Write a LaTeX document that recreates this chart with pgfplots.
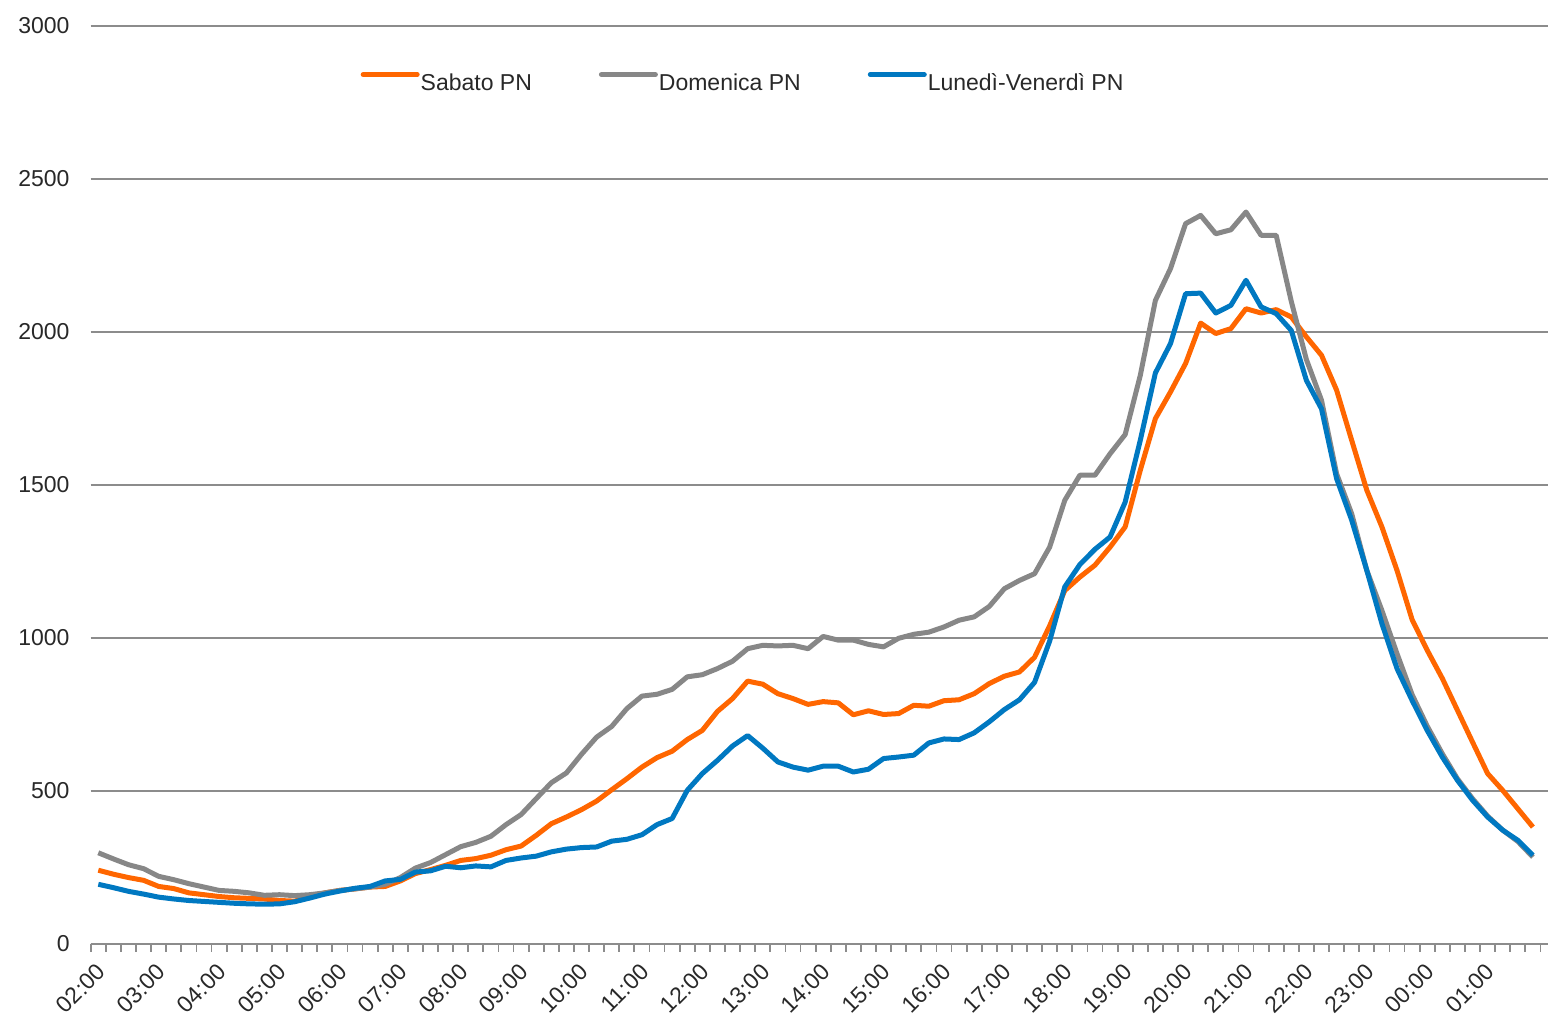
\documentclass[border=0pt]{standalone}
\usepackage{fontspec}
\setmainfont{Liberation Sans}
\usepackage{pgfplots}
\usepackage{pgfplotstable}
\pgfplotsset{compat=1.18}
\definecolor{sabato}{RGB}{255,102,0}
\definecolor{domenica}{RGB}{135,135,135}
\definecolor{lunven}{RGB}{0,120,193}
\definecolor{gridgray}{RGB}{140,140,140}
\definecolor{txt}{RGB}{40,40,40}
\newcommand{\chartfont}{\fontsize{23}{28}\selectfont}

% 15-minute slots from 02:00 (i=0) to 01:45 (i=95)
\pgfplotstableread{
i sab dom lun
0 241 298 195
1 228 278 184
2 217 259 172
3 208 246 163
4 188 221 153
5 181 210 147
6 167 197 142
7 161 186 139
8 155 175 136
9 151 172 133
10 149 167 131
11 147 159 130
12 142 161 131
13 140 158 138
14 153 161 150
15 167 167 163
16 175 175 173
17 180 180 182
18 186 186 188
19 188 195 206
20 206 217 211
21 230 248 235
22 243 266 239
23 257 292 254
24 273 318 249
25 279 332 255
26 290 352 252
27 308 390 273
28 320 423 281
29 355 475 287
30 393 527 301
31 415 559 310
32 439 620 315
33 467 676 317
34 504 711 336
35 540 769 342
36 578 810 357
37 609 816 390
38 630 832 410
39 668 873 502
40 698 880 557
41 760 900 600
42 802 924 647
43 859 965 681
44 849 976 640
45 818 974 595
46 802 976 578
47 783 965 568
48 792 1005 581
49 788 993 581
50 749 993 562
51 762 979 571
52 750 971 606
53 753 999 611
54 780 1012 617
55 777 1019 657
56 795 1036 670
57 798 1058 668
58 818 1069 690
59 851 1103 726
60 875 1161 766
61 889 1188 798
62 937 1210 855
63 1040 1297 990
64 1155 1450 1167
65 1199 1532 1240
66 1238 1532 1290
67 1297 1602 1330
68 1363 1665 1444
69 1548 1858 1646
70 1717 2103 1866
71 1804 2207 1962
72 1897 2354 2125
73 2029 2381 2127
74 1995 2321 2062
75 2011 2334 2087
76 2076 2392 2169
77 2062 2316 2082
78 2073 2316 2060
79 2049 2100 2005
80 1984 1910 1842
81 1924 1777 1749
82 1810 1537 1521
83 1646 1406 1385
84 1483 1221 1221
85 1363 1090 1047
86 1221 949 900
87 1060 815 796
88 960 712 698
89 868 622 611
90 764 540 535
91 660 475 470
92 557 418 415
93 502 372 372
94 442 335 339
95 382 284 290
}\traffic

\begin{document}
\begin{tikzpicture}
\begin{axis}[
  scale only axis, width=1457.25pt, height=918pt,
  xmin=-0.5, xmax=96, ymin=0, ymax=3000,
  axis x line*=bottom, axis y line*=left,
  y axis line style={draw=none},
  x axis line style={line width=1.8pt, gridgray},
  ytick={0,500,...,3000},
  ymajorgrids, grid style={line width=1.8pt, gridgray},
  xtick={-0.2,3.8,7.8,11.8,15.8,19.8,23.8,27.8,31.8,35.8,39.8,43.8,
         47.8,51.8,55.8,59.8,63.8,67.8,71.8,75.8,79.8,83.8,87.8,91.8},
  xticklabels={02:00,03:00,04:00,05:00,06:00,07:00,08:00,09:00,10:00,11:00,12:00,13:00,
               14:00,15:00,16:00,17:00,18:00,19:00,20:00,21:00,22:00,23:00,00:00,01:00},
  minor xtick={-0.5,0.5,...,95.5},
  tick align=outside, major tick length=0pt, minor tick length=8pt,
  every minor tick/.append style={line width=1.8pt, gridgray},
  tick label style={font=\chartfont, text=txt},
  /pgf/number format/assume math mode=true,
  /pgf/number format/1000 sep={},
  yticklabel style={anchor=east, inner sep=0pt, xshift=-21pt},
  xticklabel style={rotate=45, anchor=north east, inner sep=0pt},
  xticklabel shift=18pt,
  legend columns=3,
  legend image code/.code={\draw[#1, line cap=round] (0pt,8pt) -- (54pt,8pt);},
  legend style={at={(0.1851,0.939)}, anchor=west, draw=none, fill=none,
    inner sep=0pt, font=\chartfont, text=txt, nodes={inner sep=0pt},
    /tikz/every odd column/.append style={column sep=1pt},
    /tikz/every even column/.append style={column sep=67pt}},
]
  \addplot[sabato, line width=5pt, line join=round] table[x=i, y=sab] {\traffic};
  \addplot[domenica, line width=5pt, line join=round] table[x=i, y=dom] {\traffic};
  \addplot[lunven, line width=5pt, line join=round] table[x=i, y=lun] {\traffic};
  \legend{Sabato PN, Domenica PN, Lunedì-Venerdì PN}
  \coordinate (SW) at (rel axis cs:0,0);
  \coordinate (NE) at (rel axis cs:1,1);
\end{axis}
\pgfresetboundingbox
\path[use as bounding box] ([xshift=-90.75pt, yshift=-74pt]SW) rectangle ([xshift=1pt, yshift=26pt]NE);
\end{tikzpicture}
\end{document}
